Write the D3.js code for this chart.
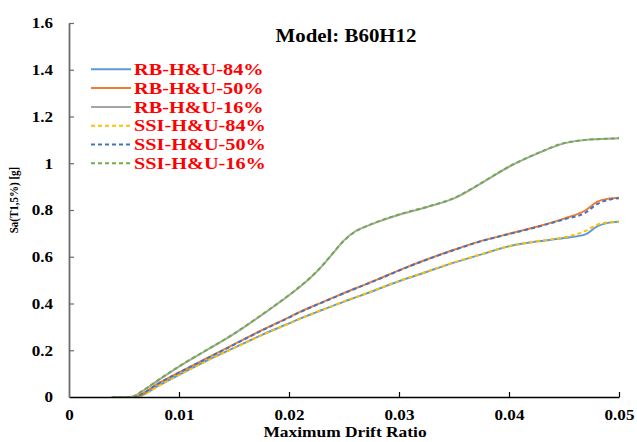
<!DOCTYPE html>
<html>
<head>
<meta charset="utf-8">
<script src="https://cdn.jsdelivr.net/npm/d3@7"></script>
<style>
  body { margin: 0; background: #fff; }
  svg { display: block; font-family: "Liberation Serif", "Times New Roman", serif; }
</style>
</head>
<body>
<svg id="chart" width="637" height="442"></svg>
<script>
const width = 637;
const height = 442;
const margin = { top: 23, right: 18, bottom: 45, left: 69 };

// drift ratio grid shared by all series
const drift = [0.0039, 0.0055, 0.006, 0.0065, 0.008, 0.01, 0.0125, 0.015, 0.0175, 0.02,
    0.021, 0.022, 0.023, 0.024, 0.025, 0.026, 0.027, 0.028, 0.03, 0.0325,
    0.035, 0.0375, 0.04, 0.0425, 0.045, 0.047, 0.048, 0.049, 0.05];

const rb84 = [0, 0, 0, 0.005, 0.045, 0.095, 0.155, 0.21, 0.265, 0.315,
    0.335, 0.354, 0.372, 0.39, 0.408, 0.425, 0.442, 0.46, 0.495, 0.535,
    0.575, 0.61, 0.645, 0.665, 0.68, 0.697, 0.73, 0.745, 0.75];
const rb50 = [0, 0, 0, 0.01, 0.055, 0.105, 0.165, 0.225, 0.285, 0.341,
    0.364, 0.385, 0.405, 0.425, 0.445, 0.464, 0.483, 0.502, 0.542, 0.588,
    0.63, 0.668, 0.698, 0.728, 0.763, 0.8, 0.835, 0.848, 0.852];
const rb16 = [0, 0, 0.005, 0.02, 0.068, 0.13, 0.2, 0.27, 0.35, 0.435,
    0.472, 0.512, 0.56, 0.615, 0.67, 0.708, 0.73, 0.748, 0.78, 0.812,
    0.85, 0.915, 0.985, 1.04, 1.085, 1.1, 1.103, 1.105, 1.107];
const ssi84 = [0, 0, 0, 0.004, 0.044, 0.094, 0.154, 0.209, 0.264, 0.314,
    0.334, 0.353, 0.372, 0.39, 0.409, 0.426, 0.443, 0.461, 0.496, 0.536,
    0.576, 0.611, 0.645, 0.666, 0.683, 0.712, 0.737, 0.747, 0.751];
const ssi50 = [0, 0, 0, 0.009, 0.054, 0.104, 0.164, 0.224, 0.284, 0.34,
    0.363, 0.384, 0.404, 0.424, 0.444, 0.463, 0.482, 0.501, 0.541, 0.587,
    0.629, 0.667, 0.697, 0.727, 0.76, 0.79, 0.825, 0.843, 0.85];
const ssi16 = [0, 0, 0.006, 0.021, 0.069, 0.131, 0.201, 0.271, 0.351, 0.436,
    0.473, 0.513, 0.561, 0.616, 0.669, 0.707, 0.73, 0.749, 0.781, 0.813,
    0.851, 0.916, 0.986, 1.041, 1.086, 1.1, 1.103, 1.105, 1.107];

const seriesNames = ["RB-H&U-84%", "RB-H&U-50%", "RB-H&U-16%", "SSI-H&U-84%", "SSI-H&U-50%", "SSI-H&U-16%"];
const seriesValues = [rb84, rb50, rb16, ssi84, ssi50, ssi16];
const seriesColors = ["#5B9BD5", "#ED7D31", "#A5A5A5", "#FFC000", "#4472C4", "#70AD47"];
const seriesDashed = [false, false, false, true, true, true];

const xTicks = [0, 0.01, 0.02, 0.03, 0.04, 0.05];
const yTicks = [0, 0.2, 0.4, 0.6, 0.8, 1, 1.2, 1.4, 1.6];

const svg = d3.select("#chart");

const x = d3.scaleLinear().domain([0, 0.05]).range([margin.left, width - margin.right]);
const y = d3.scaleLinear().domain([0, 1.6]).range([height - margin.bottom, margin.top]);

// curves
const line = d3.line()
    .x((d) => x(d[0]))
    .y((d) => y(d[1]))
    .curve(d3.curveMonotoneX);

svg.append("g")
    .selectAll("path")
    .data(seriesValues.map((vals, i) => ({ i, pts: drift.map((dr, k) => [dr, vals[k]]) })))
    .join("path")
    .attr("fill", "none")
    .attr("stroke", (d) => seriesColors[d.i])
    .attr("stroke-width", 2)
    .attr("stroke-dasharray", (d) => (seriesDashed[d.i] ? "4,3" : null))
    .attr("d", (d) => line(d.pts));

// x axis
const xAxis = svg.append("g")
    .attr("transform", `translate(0, ${y(0)})`)
    .call(d3.axisBottom(x).tickValues(xTicks).tickSize(0).tickPadding(12)
        .tickFormat((d) => (d === 0 ? "0" : d3.format(".2f")(d))));
xAxis.select(".domain").attr("stroke", "#000").attr("stroke-width", 1.5);
xAxis.selectAll(".tick")
    .filter((d) => d !== 0)
    .append("line")
    .attr("y2", -5)
    .attr("stroke", "#000")
    .attr("stroke-width", 1.2);
xAxis.selectAll(".tick text")
    .attr("font-size", 15.5)
    .attr("font-weight", "bold")
    .attr("fill", "#000")
    .attr("font-family", "Liberation Serif")
    .style("transform-box", "fill-box")
    .style("transform-origin", "center")
    .style("transform", "scaleX(1.1)");

// y axis
const yAxis = svg.append("g")
    .attr("transform", `translate(${x(0)}, 0)`)
    .call(d3.axisLeft(y).tickValues(yTicks).tickSize(0).tickPadding(16)
        .tickFormat((d) => (d === 0 || d === 1 ? d3.format("d")(d) : d3.format(".1f")(d))));
yAxis.select(".domain").attr("stroke", "#6b6b6b").attr("stroke-width", 1.8);
yAxis.selectAll(".tick")
    .filter((d) => d !== 0)
    .append("line")
    .attr("x2", 5)
    .attr("stroke", "#6b6b6b")
    .attr("stroke-width", 1.2);
yAxis.selectAll(".tick text")
    .attr("font-size", 15.5)
    .attr("font-weight", "bold")
    .attr("fill", "#000")
    .attr("font-family", "Liberation Serif")
    .style("transform-box", "fill-box")
    .style("transform-origin", "right center")
    .style("transform", "scaleX(1.1)");

// title
svg.append("text")
    .attr("x", 346)
    .attr("y", 42)
    .attr("text-anchor", "middle")
    .attr("font-size", 18)
    .attr("font-weight", "bold")
    .style("transform-box", "fill-box")
    .style("transform-origin", "center")
    .style("transform", "scaleX(1.16)")
    .text("Model: B60H12");

// axis titles
svg.append("text")
    .attr("x", 345)
    .attr("y", 437)
    .attr("text-anchor", "middle")
    .attr("font-size", 14.5)
    .attr("font-weight", "bold")
    .style("transform-box", "fill-box")
    .style("transform-origin", "center")
    .style("transform", "scaleX(1.2)")
    .text("Maximum Drift Ratio");

svg.append("text")
    .attr("transform", "translate(18, 200) scale(1.15, 1) rotate(-90)")
    .attr("text-anchor", "middle")
    .attr("font-size", 11)
    .attr("font-weight", "bold")
    .text("Sa(T1,5%) [g]");

// legend
const legend = svg.append("g")
    .selectAll("g")
    .data(seriesNames)
    .join("g")
    .attr("transform", (d, i) => `translate(91, ${69.3 + i * 18.8})`);

legend.append("line")
    .attr("x1", 0)
    .attr("x2", 40)
    .attr("stroke", (d, i) => seriesColors[i])
    .attr("stroke-width", 2)
    .attr("stroke-dasharray", (d, i) => (seriesDashed[i] ? "4,3" : null));

legend.append("text")
    .attr("x", 43)
    .attr("dy", "0.33em")
    .attr("font-size", 17.5)
    .attr("font-weight", "bold")
    .attr("fill", "#ff0000")
    .style("transform-box", "fill-box")
    .style("transform-origin", "left center")
    .style("transform", "scaleX(1.16)")
    .text((d) => d);
</script>
</body>
</html>
